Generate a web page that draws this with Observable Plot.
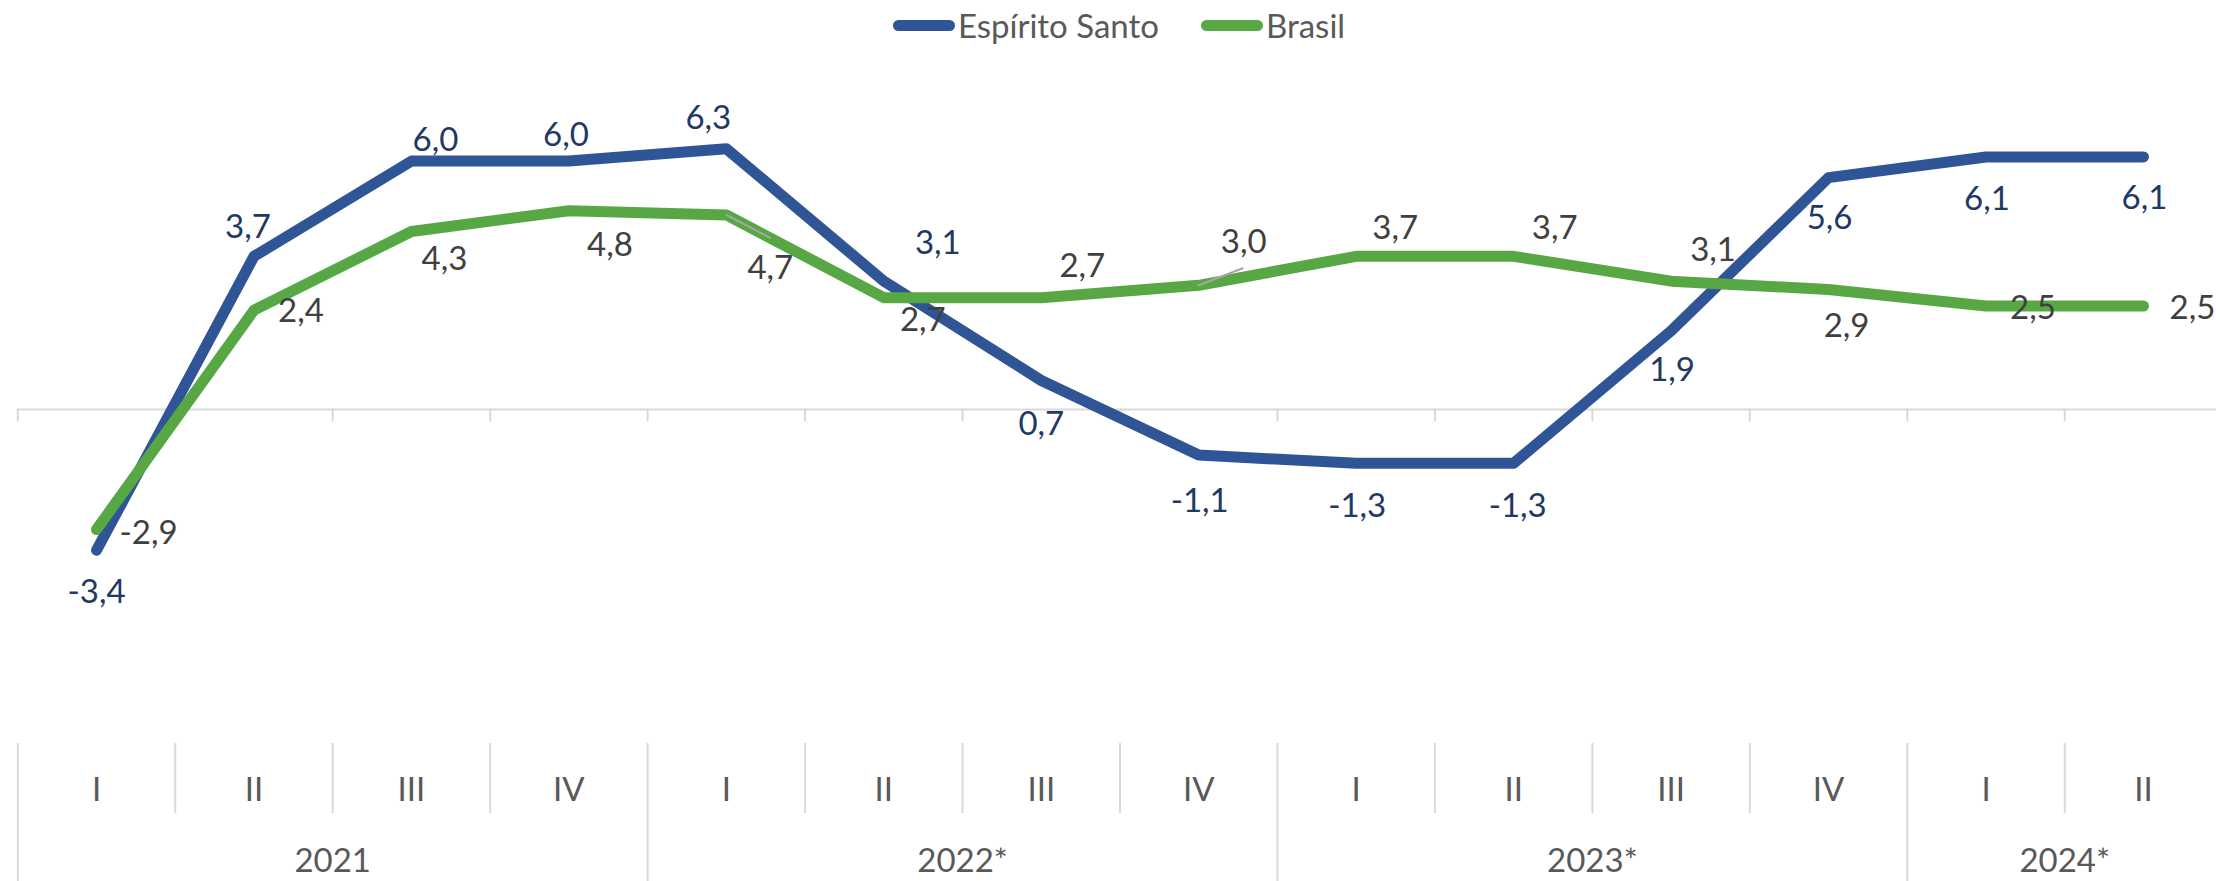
<!DOCTYPE html>
<html>
<head>
<meta charset="utf-8">
<script src="https://cdn.jsdelivr.net/npm/d3@7"></script>
<script src="https://cdn.jsdelivr.net/npm/@observablehq/plot@0.6"></script>
<style>
  html, body { margin: 0; padding: 0; background: #fff; overflow: hidden; }
  #legend { height: 50px; display: flex; justify-content: center; align-items: center;
            font-family: Lato, sans-serif; font-size: 33px; color: #595959; padding-left: 22px; box-sizing: border-box; }
  .sw { display: inline-block; width: 62px; height: 11px; border-radius: 6px; margin-right: 3px; }
  #chart svg { display: block; }
</style>
</head>
<body>
<div id="legend">
  <span class="sw" style="background:#2F5597"></span><span>Espírito Santo</span>
  <span class="sw" style="background:#57A845; margin-left:42px"></span><span>Brasil</span>
</div>
<div id="chart"></div>
<script>
// ---- data ----
const quarters = ["I","II","III","IV","I","II","III","IV","I","II","III","IV","I","II"];
const years = ["2021","2021","2021","2021","2022*","2022*","2022*","2022*","2023*","2023*","2023*","2023*","2024*","2024*"];
const espiritoSanto = [-3.4, 3.7, 6.0, 6.0, 6.3, 3.1, 0.7, -1.1, -1.3, -1.3, 1.9, 5.6, 6.1, 6.1];
const brasil = [-2.9, 2.4, 4.3, 4.8, 4.7, 2.7, 2.7, 3.0, 3.7, 3.7, 3.1, 2.9, 2.5, 2.5];

// ---- label layout (pixel offsets of each data label from its point) ----
const esLabelOffset = [[0,42],[-6,-29],[24,-21],[-3,-26],[-18,-30],[54,-38],[0,44],[1,46],[1,43],[4,43],[1,40],[1,41],[1,42],[1,41]];
const brLabelOffset = [[52,4],[47,1],[33,28],[41,35],[44,54],[39,23],[41,-31],[45,-43],[39,-28],[41,-28],[42,-31],[18,37],[47,2],[49,2]];
const brLeader = {4: [44, 23], 7: [44, -17]};

// ---- geometry ----
const W = 2216, H = 831;
const mTop = 27.8, mBottom = 140.8, mLeft = 17.3, mRight = -5.7;
const frameBottom = H - mBottom;

const blue = "#2F5597", green = "#57A845";
const blueText = "#1F3864", greenText = "#404040", axisText = "#595959", gridColor = "#D9D9D9";

const n = quarters.length;
const rows = quarters.map((q, i) => ({i, q, year: years[i], es: espiritoSanto[i], br: brasil[i]}));
const yearGroups = d3.groups(rows, d => d.year).map(([year, rs]) => ({year, start: rs[0].i, end: rs[rs.length - 1].i}));
const boundaries = d3.range(0, n + 1).map(k => k - 0.5);
const yearBoundaries = [...yearGroups.map(g => g.start - 0.5), yearGroups[yearGroups.length - 1].end + 0.5];
const quarterBoundaries = boundaries.filter(b => !yearBoundaries.includes(b));
const fmt = v => v.toFixed(1).replace(".", ",");

const segment = {draw(context, l) { context.moveTo(0, 0); context.lineTo(0, -l); }};

const marks = [
  Plot.ruleY([0], {stroke: gridColor, strokeWidth: 2}),
  Plot.vector(boundaries, {x: d => d, y: 0, length: 11, rotate: 180, anchor: "start", shape: segment, stroke: gridColor, strokeWidth: 2}),
  Plot.ruleX(quarterBoundaries, {x: d => d, insetTop: 693 - mTop, insetBottom: frameBottom - 763, stroke: gridColor, strokeWidth: 2}),
  Plot.ruleX(yearBoundaries, {x: d => d, insetTop: 693 - mTop, insetBottom: frameBottom - H, stroke: gridColor, strokeWidth: 2}),
  Plot.text(rows, {x: "i", text: "q", frameAnchor: "bottom", dy: 740 - frameBottom, lineAnchor: "middle", fill: axisText, fontSize: 33}),
  Plot.text(yearGroups, {x: d => (d.start + d.end) / 2, text: "year", frameAnchor: "bottom", dy: 811 - frameBottom, lineAnchor: "middle", fill: axisText, fontSize: 33}),
  Plot.line(rows, {x: "i", y: "es", stroke: blue, strokeWidth: 11, strokeLinecap: "round", strokeLinejoin: "round"}),
  Plot.line(rows, {x: "i", y: "br", stroke: green, strokeWidth: 11, strokeLinecap: "round", strokeLinejoin: "round"}),
];
for (const [k, [lx, ly]] of Object.entries(brLeader)) {
  const d = rows[+k];
  marks.push(Plot.vector([d], {x: "i", y: "br", length: Math.hypot(lx, ly), rotate: Math.atan2(lx, -ly) * 180 / Math.PI,
    anchor: "start", shape: segment, stroke: "#A6A6A6", strokeWidth: 2}));
}
rows.forEach((d, i) => {
  marks.push(Plot.text([d], {x: "i", y: "es", text: r => fmt(r.es), dx: esLabelOffset[i][0], dy: esLabelOffset[i][1], lineAnchor: "middle", fill: blueText, fontSize: 33}));
  marks.push(Plot.text([d], {x: "i", y: "br", text: r => fmt(r.br), dx: brLabelOffset[i][0], dy: brLabelOffset[i][1], lineAnchor: "middle", fill: greenText, fontSize: 33}));
});

const chart = Plot.plot({
  width: W, height: H,
  marginTop: mTop, marginBottom: mBottom, marginLeft: mLeft, marginRight: mRight,
  x: {domain: [-0.5, n - 0.5], axis: null},
  y: {domain: [-8, 8], axis: null},
  style: {fontFamily: "Lato, sans-serif", fontSize: "33px", background: "white", overflow: "hidden"},
  marks
});
document.getElementById("chart").appendChild(chart);
</script>
</body>
</html>
